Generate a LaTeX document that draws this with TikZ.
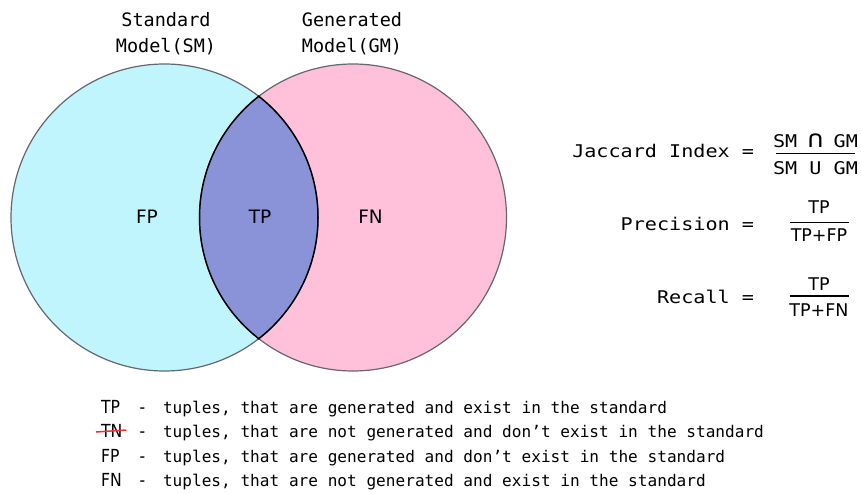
\documentclass[tikz,border=0pt]{standalone}
\usepackage{fontspec}
\usepackage{graphicx}
\setmainfont{DejaVu Sans}
\newfontfamily\titlemono{DejaVu Sans Mono}
\newfontfamily\widemono[FakeStretch=1.15]{DejaVu Sans Mono}
\newfontfamily\legmono{DejaVu Sans Mono}
\newfontfamily\condsans[FakeStretch=0.87]{DejaVu Sans}
\definecolor{smfill}{HTML}{C0F5FE}
\definecolor{gmfill}{HTML}{FFC0DA}
\definecolor{lensfill}{HTML}{8A93D8}
\definecolor{rimgray}{HTML}{66666E}
\definecolor{strikered}{HTML}{E8333A}
\newlength\mywd
\newcommand\capcap{\settowidth{\mywd}{M}\makebox[\mywd][c]{\scalebox{1.35}{∩}}}
\begin{document}
\begin{tikzpicture}[x=1pt,y=-1pt,
  every node/.style={inner sep=0pt,outer sep=0pt},
  title/.style={font=\titlemono\fontsize{18.5}{20}\selectfont,anchor=base},
  region/.style={font=\fontsize{18.5}{20}\selectfont,anchor=base},
  formula/.style={font=\widemono\fontsize{17.5}{20}\selectfont,anchor=base east},
  setfrac/.style={font=\widemono\fontsize{17.5}{20}\selectfont,anchor=base},
  frac/.style={font=\fontsize{17.5}{20}\selectfont,anchor=base},
  fracbar/.style={line width=1.6pt},
  legkey/.style={font=\condsans\fontsize{18}{20}\selectfont,anchor=base west},
  legdash/.style={font=\condsans\fontsize{18}{20}\selectfont,anchor=base},
  legtext/.style={font=\legmono\fontsize{16.1}{20}\selectfont,anchor=base west},
  rim/.style={draw=rimgray,line width=1.2pt},
  lensrim/.style={draw=black,line width=1.5pt},
  strike/.style={draw=strikered,line width=1.5pt}
]
\useasboundingbox (0,0) rectangle (861,494);
\def\R{153.5}
\coordinate (sm) at (164.5,217.5);
\coordinate (gm) at (353,217.5);
% circles
\fill[smfill] (sm) circle[radius=\R];
\fill[gmfill] (gm) circle[radius=\R];
\draw[rim] (sm) circle[radius=\R];
\draw[rim] (gm) circle[radius=\R];
% lens
\begin{scope}
  \clip (sm) circle[radius=\R];
  \fill[lensfill] (gm) circle[radius=\R];
\end{scope}
\begin{scope}
  \clip (sm) circle[radius=\R+0.8];
  \draw[lensrim] (gm) circle[radius=\R];
\end{scope}
\begin{scope}
  \clip (gm) circle[radius=\R+0.8];
  \draw[lensrim] (sm) circle[radius=\R];
\end{scope}
% titles
\node[title] (t1a) at (166,27) {Standard};
\node[title] (t1b) at (166,53) {Model(SM)};
\node[title] (t2a) at (352,27) {Generated};
\node[title] (t2b) at (352,53) {Model(GM)};
% region labels
\node[region] (fp) at (147,224) {FP};
\node[region] (tp) at (260,224) {TP};
\node[region] (fn) at (370.5,224) {FN};
% formulas
\node[formula] (jac) at (754,157.5) {Jaccard Index =};
\node[setfrac] (jn) at (815.5,148) {SM \capcap{} GM};
\node[setfrac] (jd) at (815.5,175) {SM U GM};
\coordinate (jb1) at (776,153.5);
\coordinate (jb2) at (855,153.5);
\draw[fracbar] (jb1) -- (jb2);

\node[formula] (prec) at (754,230) {Precision =};
\node[frac] (pn) at (819,214) {TP};
\node[frac] (pd) at (819,241.5) {TP+FP};
\coordinate (pb1) at (790,222.7);
\coordinate (pb2) at (849,222.7);
\draw[fracbar] (pb1) -- (pb2);

\node[formula] (rec) at (754,303.3) {Recall =};
\node[frac] (rn) at (819,290) {TP};
\node[frac] (rd) at (819,316.5) {TP+FN};
\coordinate (rb1) at (790,295.7);
\coordinate (rb2) at (849,295.7);
\draw[fracbar] (rb1) -- (rb2);

% legend
\node[legkey] (k1) at (101,413) {TP};
\node[legdash] (d1) at (142.5,413) {-};
\node[legtext] (l1) at (163,413) {tuples, that are generated and exist in the standard};
\node[legkey] (k2) at (101,437.5) {TN};
\node[legdash] (d2) at (142.5,437.5) {-};
\node[legtext] (l2) at (163,437.5) {tuples, that are not generated and don’t exist in the standard};
\node[legkey] (k3) at (101,462) {FP};
\node[legdash] (d3) at (142.5,462) {-};
\node[legtext] (l3) at (163,462) {tuples, that are generated and don’t exist in the standard};
\node[legkey] (k4) at (101,486.5) {FN};
\node[legdash] (d4) at (142.5,486.5) {-};
\node[legtext] (l4) at (163,486.5) {tuples, that are not generated and exist in the standard};
\draw[strike] ([shift={(-5pt,5.5pt)}]k2.base west) -- ([shift={(4pt,7.5pt)}]k2.base east);
\end{tikzpicture}
\end{document}
